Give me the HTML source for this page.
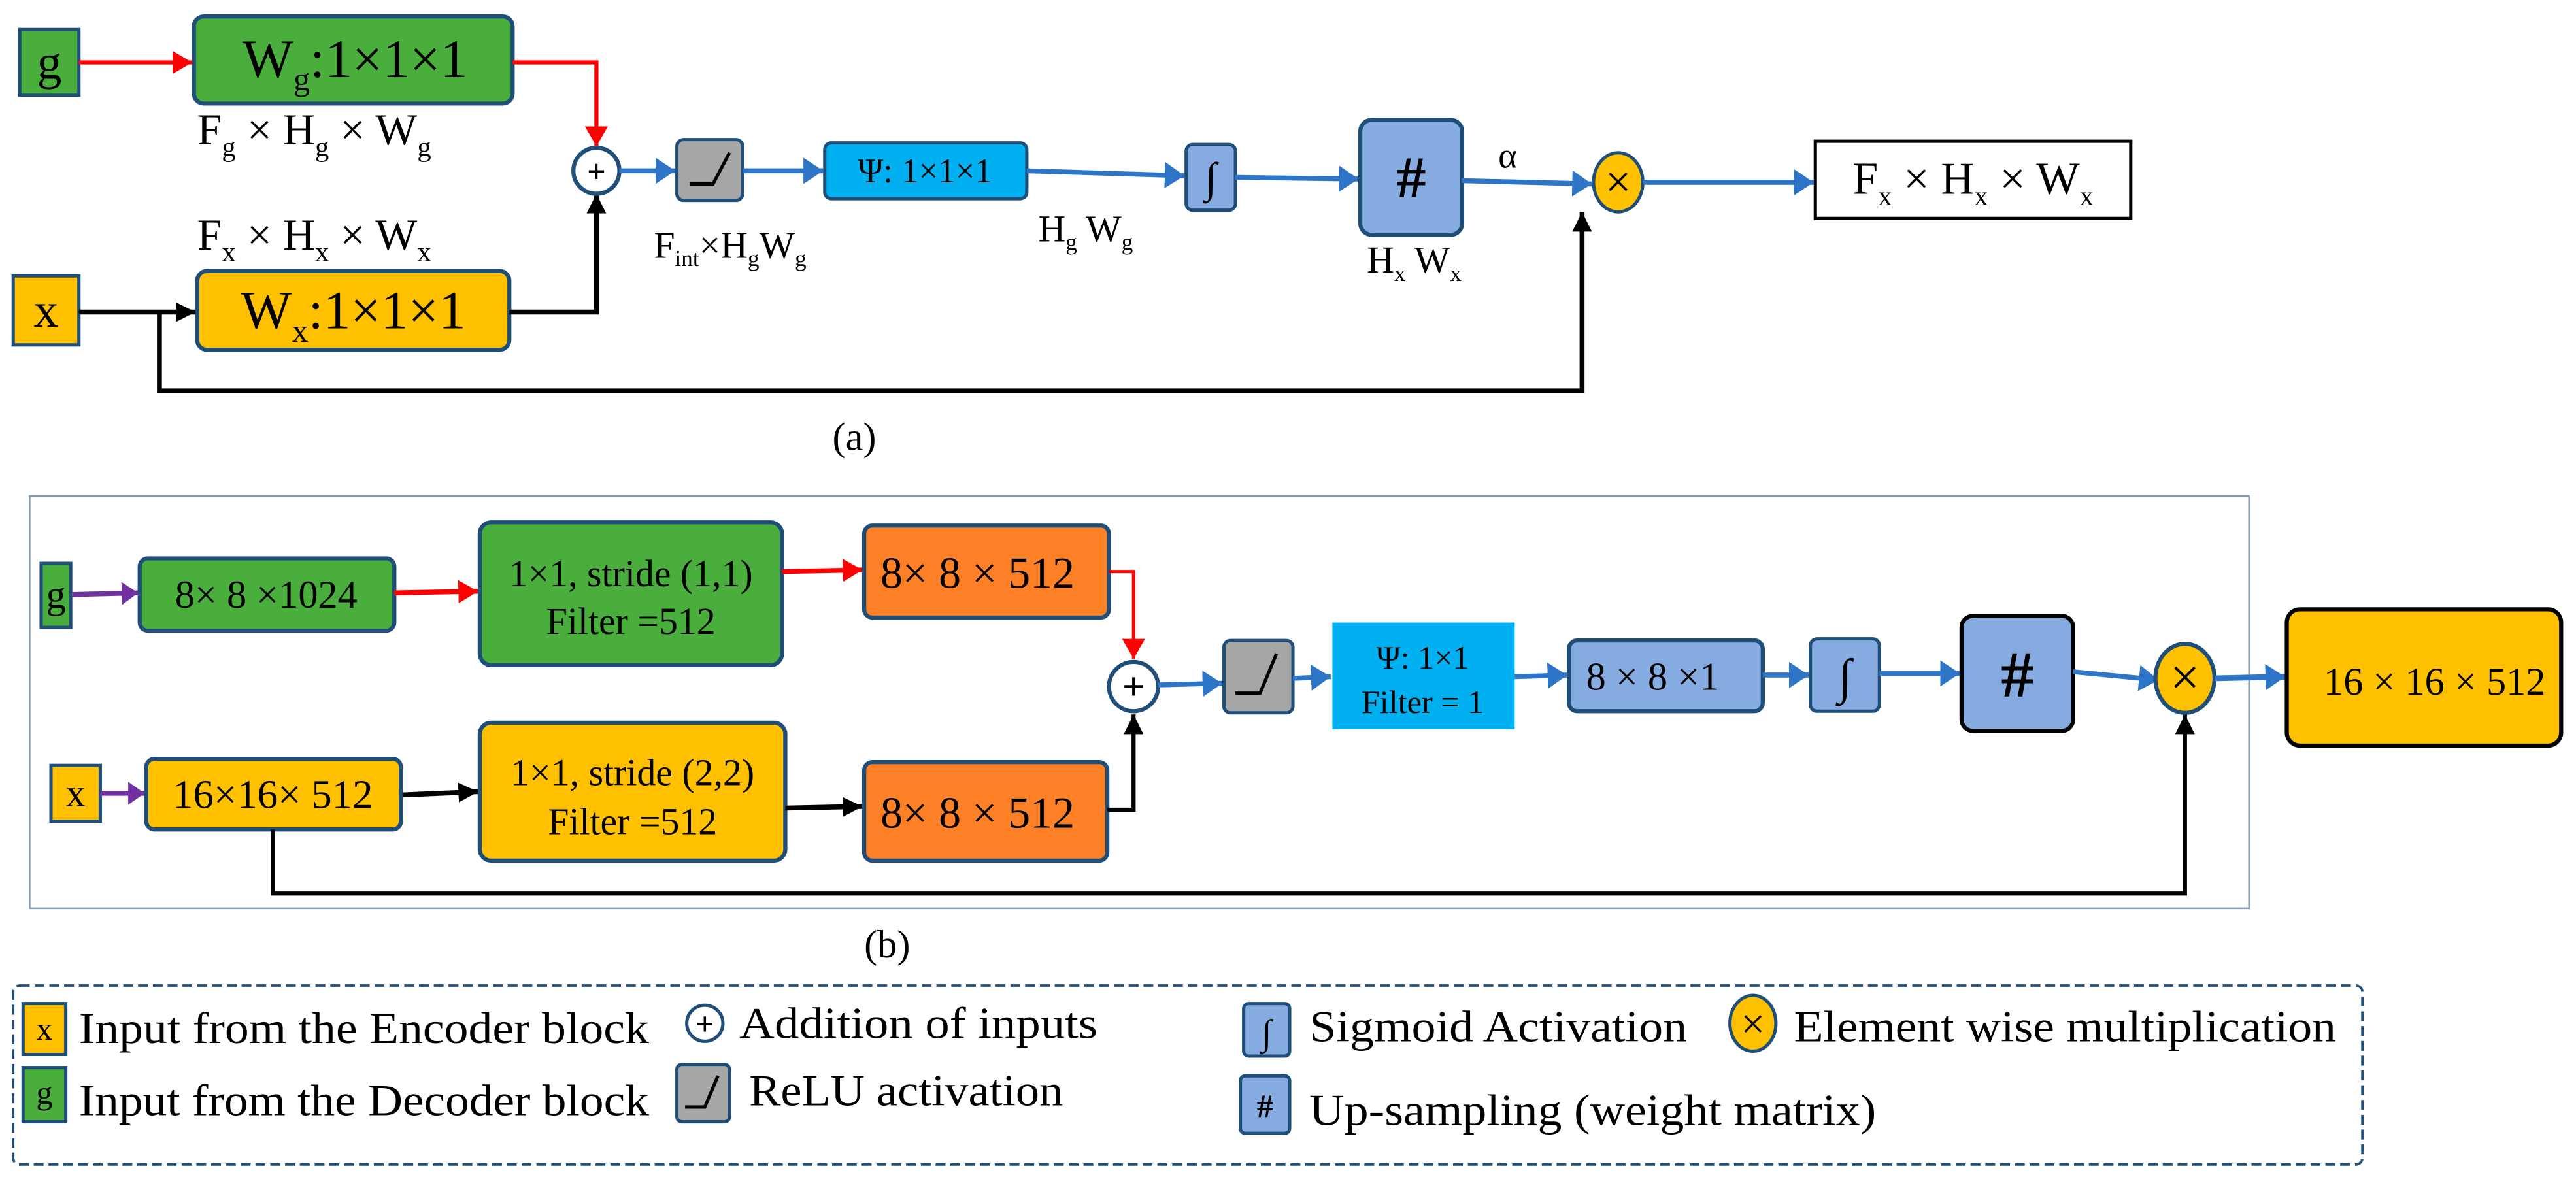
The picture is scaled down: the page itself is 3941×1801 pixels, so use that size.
<!DOCTYPE html>
<html><head><meta charset="utf-8"><style>
html,body{margin:0;padding:0;background:#fff;}
svg{display:block;}
text{font-family:"Liberation Serif",serif;fill:#000;}
</style></head><body>
<svg width="3941" height="1801" viewBox="0 0 1568 716.6" xmlns="http://www.w3.org/2000/svg">
<defs>
<marker id="ar" markerUnits="userSpaceOnUse" markerWidth="14" markerHeight="14" refX="12" refY="7" orient="auto"><path d="M0,0 L12,7 L0,14 z" fill="#ff0000"/></marker>
<marker id="ak" markerUnits="userSpaceOnUse" markerWidth="14" markerHeight="14" refX="12" refY="7" orient="auto"><path d="M0,1 L12,7 L0,13 z" fill="#000"/></marker>
<marker id="ab" markerUnits="userSpaceOnUse" markerWidth="14" markerHeight="16" refX="12" refY="8" orient="auto"><path d="M0,0 L12,8 L0,16 z" fill="#2e75c8"/></marker>
<marker id="ap" markerUnits="userSpaceOnUse" markerWidth="12" markerHeight="14" refX="10" refY="7" orient="auto"><path d="M0,0 L10,7 L0,14 z" fill="#7030a0"/></marker>
</defs>

<!-- ===== (a) ===== -->
<rect x="12" y="18" width="36" height="40" fill="#4aae3c" stroke="#1f4e79" stroke-width="2"/>
<text x="30" y="48" font-size="30" text-anchor="middle">g</text>
<rect x="118" y="10" width="194" height="53" rx="6" fill="#4aae3c" stroke="#1f4e79" stroke-width="2.5"/>
<text x="216" y="47" font-size="33" text-anchor="middle">W<tspan font-size="20" dy="8">g</tspan><tspan dy="-8">:1×1×1</tspan></text>
<line x1="48" y1="38" x2="117" y2="38" stroke="#ff0000" stroke-width="2.5" marker-end="url(#ar)"/>
<polyline points="312,38 363,38 363,89" fill="none" stroke="#ff0000" stroke-width="2.5" marker-end="url(#ar)"/>
<text x="120" y="88" font-size="27">F<tspan font-size="17" dy="7">g</tspan><tspan dy="-7"> × H</tspan><tspan font-size="17" dy="7">g</tspan><tspan dy="-7"> × W</tspan><tspan font-size="17" dy="7">g</tspan></text>
<text x="120" y="152" font-size="27">F<tspan font-size="17" dy="7">x</tspan><tspan dy="-7"> × H</tspan><tspan font-size="17" dy="7">x</tspan><tspan dy="-7"> × W</tspan><tspan font-size="17" dy="7">x</tspan></text>
<rect x="8" y="168" width="40" height="42" fill="#ffc000" stroke="#1f4e79" stroke-width="2"/>
<text x="28" y="199" font-size="30" text-anchor="middle">x</text>
<rect x="120" y="165" width="190" height="48" rx="6" fill="#ffc000" stroke="#1f4e79" stroke-width="2.5"/>
<text x="215" y="200" font-size="33" text-anchor="middle">W<tspan font-size="20" dy="8">x</tspan><tspan dy="-8">:1×1×1</tspan></text>
<line x1="48" y1="190" x2="119" y2="190" stroke="#000" stroke-width="3" marker-end="url(#ak)"/>
<polyline points="310,190 363,190 363,118" fill="none" stroke="#000" stroke-width="3" marker-end="url(#ak)"/>
<polyline points="97,190 97,238 963,238 963,129" fill="none" stroke="#000" stroke-width="3" marker-end="url(#ak)"/>
<circle cx="363" cy="104" r="14" fill="#fff" stroke="#1f4e79" stroke-width="2.5"/>
<text x="363" y="111" font-size="20" text-anchor="middle" font-weight="bold">+</text>
<line x1="377" y1="104" x2="411" y2="104" stroke="#2e75c8" stroke-width="3" marker-end="url(#ab)"/>
<rect x="412" y="85" width="40" height="37" rx="4" fill="#a6a6a6" stroke="#1f4e79" stroke-width="2"/>
<polyline points="420,112 434,112 444,93" fill="none" stroke="#000" stroke-width="2"/>
<line x1="452" y1="104" x2="501" y2="104" stroke="#2e75c8" stroke-width="3" marker-end="url(#ab)"/>
<rect x="502" y="87" width="123" height="34" rx="4" fill="#00b0f0" stroke="#1f4e79" stroke-width="2"/>
<text x="563" y="111" font-size="21" text-anchor="middle">Ψ: 1×1×1</text>
<text x="398" y="157" font-size="23">F<tspan font-size="14" dy="5">int</tspan><tspan dy="-5">×H</tspan><tspan font-size="14" dy="5">g</tspan><tspan dy="-5">W</tspan><tspan font-size="14" dy="5">g</tspan></text>
<line x1="625" y1="104" x2="721" y2="107" stroke="#2e75c8" stroke-width="3" marker-end="url(#ab)"/>
<text x="632" y="147" font-size="23">H<tspan font-size="14" dy="5">g</tspan><tspan dy="-5"> W</tspan><tspan font-size="14" dy="5">g</tspan></text>
<rect x="722" y="88" width="30" height="40" rx="4" fill="#86abe0" stroke="#1f4e79" stroke-width="2"/>
<text x="737" y="117" font-size="26" text-anchor="middle" font-style="italic">∫</text>
<line x1="752" y1="108" x2="827" y2="109" stroke="#2e75c8" stroke-width="3" marker-end="url(#ab)"/>
<rect x="828" y="73" width="62" height="70" rx="7" fill="#86abe0" stroke="#1f4e79" stroke-width="2.5"/>
<text x="859" y="120" font-size="36" text-anchor="middle" font-weight="bold">#</text>
<text x="832" y="166" font-size="23">H<tspan font-size="14" dy="5">x</tspan><tspan dy="-5"> W</tspan><tspan font-size="14" dy="5">x</tspan></text>
<text x="912" y="102" font-size="22">α</text>
<line x1="890" y1="110" x2="969" y2="112" stroke="#2e75c8" stroke-width="3" marker-end="url(#ab)"/>
<ellipse cx="985" cy="111" rx="15" ry="18" fill="#ffc000" stroke="#1f4e79" stroke-width="2"/>
<text x="985" y="120" font-size="28" text-anchor="middle">×</text>
<line x1="1000" y1="111" x2="1104" y2="111" stroke="#2e75c8" stroke-width="3" marker-end="url(#ab)"/>
<rect x="1105" y="86" width="192" height="47" fill="#fff" stroke="#000" stroke-width="2"/>
<text x="1201" y="118" font-size="28" text-anchor="middle">F<tspan font-size="17" dy="7">x</tspan><tspan dy="-7"> × H</tspan><tspan font-size="17" dy="7">x</tspan><tspan dy="-7"> × W</tspan><tspan font-size="17" dy="7">x</tspan></text>
<text x="520" y="274" font-size="24" text-anchor="middle">(a)</text>

<!-- ===== (b) ===== -->
<rect x="18" y="302" width="1351" height="251" fill="none" stroke="#8497b0" stroke-width="1"/>
<rect x="25" y="343" width="18" height="39" fill="#4aae3c" stroke="#1f4e79" stroke-width="2"/>
<text x="34" y="370" font-size="24" text-anchor="middle">g</text>
<line x1="44" y1="362" x2="84" y2="361" stroke="#7030a0" stroke-width="3" marker-end="url(#ap)"/>
<rect x="85" y="340" width="155" height="44" rx="5" fill="#4aae3c" stroke="#1f4e79" stroke-width="2.5"/>
<text x="162" y="370" font-size="24" text-anchor="middle">8× 8 ×1024</text>
<line x1="240" y1="361" x2="291" y2="360" stroke="#ff0000" stroke-width="3" marker-end="url(#ar)"/>
<rect x="292" y="318" width="184" height="87" rx="7" fill="#4aae3c" stroke="#1f4e79" stroke-width="2.5"/>
<text x="384" y="357" font-size="23" text-anchor="middle">1×1, stride (1,1)</text>
<text x="384" y="386" font-size="23" text-anchor="middle">Filter =512</text>
<line x1="476" y1="348" x2="525" y2="347" stroke="#ff0000" stroke-width="3" marker-end="url(#ar)"/>
<rect x="526" y="320" width="149" height="56" rx="5" fill="#fd7f26" stroke="#1f4e79" stroke-width="2.5"/>
<text x="595" y="358" font-size="27" text-anchor="middle">8× 8 × 512</text>
<polyline points="675,348 690,348 690,401" fill="none" stroke="#ff0000" stroke-width="2" marker-end="url(#ar)"/>

<rect x="31" y="466" width="30" height="34" fill="#ffc000" stroke="#1f4e79" stroke-width="2"/>
<text x="46" y="491" font-size="24" text-anchor="middle">x</text>
<line x1="61" y1="483" x2="88" y2="483" stroke="#7030a0" stroke-width="3" marker-end="url(#ap)"/>
<rect x="89" y="462" width="155" height="43" rx="5" fill="#ffc000" stroke="#1f4e79" stroke-width="2.5"/>
<text x="166" y="492" font-size="25" text-anchor="middle">16×16× 512</text>
<line x1="245" y1="484" x2="291" y2="482" stroke="#000" stroke-width="3" marker-end="url(#ak)"/>
<rect x="292" y="440" width="186" height="84" rx="7" fill="#ffc000" stroke="#1f4e79" stroke-width="2.5"/>
<text x="385" y="478" font-size="23" text-anchor="middle">1×1, stride (2,2)</text>
<text x="385" y="508" font-size="23" text-anchor="middle">Filter =512</text>
<line x1="478" y1="492" x2="525" y2="491" stroke="#000" stroke-width="3" marker-end="url(#ak)"/>
<rect x="526" y="464" width="148" height="60" rx="5" fill="#fd7f26" stroke="#1f4e79" stroke-width="2.5"/>
<text x="595" y="504" font-size="27" text-anchor="middle">8× 8 × 512</text>
<polyline points="674,493 690,493 690,435" fill="none" stroke="#000" stroke-width="2.5" marker-end="url(#ak)"/>
<polyline points="166,505 166,544 1330,544 1330,435" fill="none" stroke="#000" stroke-width="2.5" marker-end="url(#ak)"/>

<circle cx="690" cy="418" r="15" fill="#fff" stroke="#1f4e79" stroke-width="2.5"/>
<text x="690" y="426" font-size="24" text-anchor="middle" font-weight="bold">+</text>
<line x1="705" y1="417" x2="744" y2="416" stroke="#2e75c8" stroke-width="3" marker-end="url(#ab)"/>
<rect x="745" y="390" width="42" height="44" rx="4" fill="#a6a6a6" stroke="#1f4e79" stroke-width="2"/>
<polyline points="752,422 767,422 777,398" fill="none" stroke="#000" stroke-width="2"/>
<line x1="787" y1="413" x2="810" y2="412" stroke="#2e75c8" stroke-width="3" marker-end="url(#ab)"/>
<rect x="811" y="379" width="111" height="65" fill="#00b0f0"/>
<text x="866" y="407" font-size="20" text-anchor="middle">Ψ: 1×1</text>
<text x="866" y="434" font-size="20" text-anchor="middle">Filter = 1</text>
<line x1="922" y1="412" x2="954" y2="411" stroke="#2e75c8" stroke-width="3" marker-end="url(#ab)"/>
<rect x="955" y="390" width="118" height="43" rx="5" fill="#86abe0" stroke="#1f4e79" stroke-width="2.5"/>
<text x="1006" y="420" font-size="24" text-anchor="middle">8 × 8 ×1</text>
<line x1="1073" y1="411" x2="1101" y2="411" stroke="#2e75c8" stroke-width="3" marker-end="url(#ab)"/>
<rect x="1102" y="389" width="42" height="44" rx="4" fill="#86abe0" stroke="#1f4e79" stroke-width="2"/>
<text x="1123" y="422" font-size="30" text-anchor="middle" font-style="italic">∫</text>
<line x1="1144" y1="410" x2="1193" y2="410" stroke="#2e75c8" stroke-width="3" marker-end="url(#ab)"/>
<rect x="1194" y="375" width="68" height="70" rx="7" fill="#86abe0" stroke="#000" stroke-width="2.5"/>
<text x="1228" y="424" font-size="40" text-anchor="middle" font-weight="bold">#</text>
<line x1="1262" y1="409" x2="1314" y2="414" stroke="#2e75c8" stroke-width="3" marker-end="url(#ab)"/>
<ellipse cx="1330" cy="413" rx="18" ry="21" fill="#ffc000" stroke="#1f4e79" stroke-width="2.5"/>
<text x="1330" y="423" font-size="32" text-anchor="middle">×</text>
<line x1="1348" y1="413" x2="1391" y2="412" stroke="#2e75c8" stroke-width="3.5" marker-end="url(#ab)"/>
<rect x="1392" y="371" width="167" height="83" rx="8" fill="#ffc000" stroke="#000" stroke-width="2.5"/>
<text x="1482" y="423" font-size="24" text-anchor="middle">16 × 16 × 512</text>
<text x="540" y="583" font-size="24" text-anchor="middle">(b)</text>

<!-- ===== legend ===== -->
<rect x="8" y="600" width="1430" height="109" rx="4" fill="none" stroke="#1f4e79" stroke-width="1.5" stroke-dasharray="6,3"/>
<rect x="14" y="611" width="26" height="31" fill="#ffc000" stroke="#1f4e79" stroke-width="2"/>
<text x="27" y="633" font-size="20" text-anchor="middle">x</text>
<text x="48" y="635" font-size="27" textLength="347" lengthAdjust="spacingAndGlyphs">Input from the Encoder block</text>
<circle cx="429" cy="623" r="11" fill="#fff" stroke="#1f4e79" stroke-width="2"/>
<text x="429" y="630" font-size="20" text-anchor="middle" font-weight="bold">+</text>
<text x="450" y="632" font-size="27" textLength="218" lengthAdjust="spacingAndGlyphs">Addition of inputs</text>
<rect x="757" y="611" width="28" height="32" rx="3" fill="#86abe0" stroke="#1f4e79" stroke-width="2"/>
<text x="771" y="636" font-size="22" text-anchor="middle" font-style="italic">∫</text>
<text x="797" y="634" font-size="27" textLength="230" lengthAdjust="spacingAndGlyphs">Sigmoid Activation</text>
<ellipse cx="1067" cy="623" rx="14" ry="17" fill="#ffc000" stroke="#1f4e79" stroke-width="2"/>
<text x="1067" y="632" font-size="26" text-anchor="middle">×</text>
<text x="1092" y="634" font-size="27" textLength="330" lengthAdjust="spacingAndGlyphs">Element wise multiplication</text>
<rect x="14" y="650" width="26" height="33" fill="#4aae3c" stroke="#1f4e79" stroke-width="2"/>
<text x="27" y="672" font-size="20" text-anchor="middle">g</text>
<text x="48" y="679" font-size="27" textLength="347" lengthAdjust="spacingAndGlyphs">Input from the Decoder block</text>
<rect x="412" y="648" width="32" height="35" rx="3" fill="#a6a6a6" stroke="#1f4e79" stroke-width="2"/>
<polyline points="417,674 429,674 437,655" fill="none" stroke="#000" stroke-width="2"/>
<text x="456" y="673" font-size="27" textLength="191" lengthAdjust="spacingAndGlyphs">ReLU activation</text>
<rect x="755" y="655" width="30" height="35" rx="3" fill="#86abe0" stroke="#1f4e79" stroke-width="2"/>
<text x="770" y="680" font-size="20" text-anchor="middle" font-weight="bold">#</text>
<text x="797" y="685" font-size="27" textLength="345" lengthAdjust="spacingAndGlyphs">Up-sampling (weight matrix)</text>
</svg>
</body></html>
